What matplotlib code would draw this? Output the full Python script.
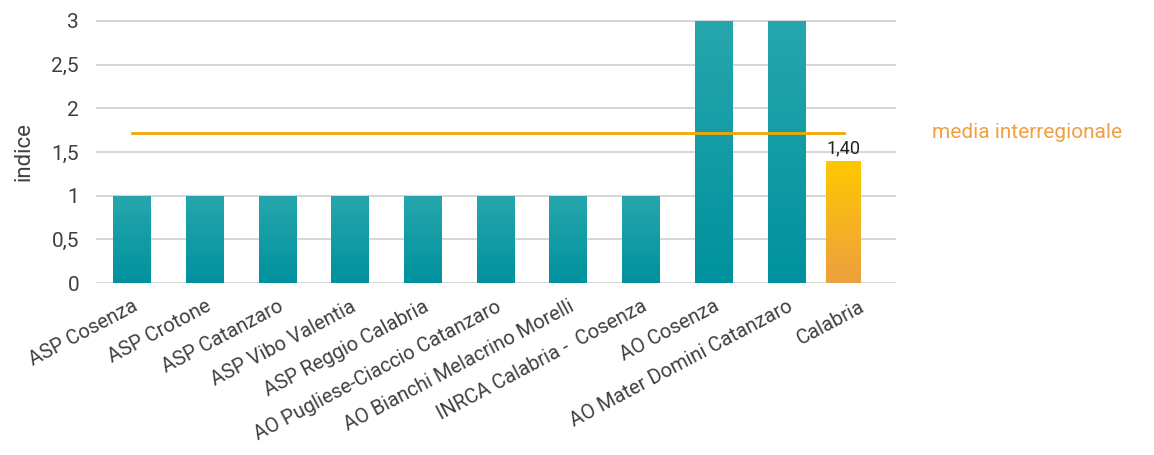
import numpy as np
import matplotlib.pyplot as plt
from matplotlib.colors import LinearSegmentedColormap

categories = ['ASP Cosenza', 'ASP Crotone', 'ASP Catanzaro', 'ASP Vibo Valentia',
              'ASP Reggio Calabria', 'AO Pugliese-Ciaccio Catanzaro',
              'AO Bianchi Melacrino Morelli', 'INRCA Calabria -  Cosenza',
              'AO Cosenza', 'AO Mater Domini Catanzaro', 'Calabria']
values = [1, 1, 1, 1, 1, 1, 1, 1, 3, 3, 1.40]
media = 1.72
yticks = [0, 0.5, 1, 1.5, 2, 2.5, 3]
yticklabels = ['0', '0,5', '1', '1,5', '2', '2,5', '3']

plt.rcParams['font.family'] = ['Roboto', 'DejaVu Sans']

teal = LinearSegmentedColormap.from_list('teal', ['#00919E', '#27A7AD'])
gold = LinearSegmentedColormap.from_list('gold', ['#ECA040', '#FFC800'])

fig = plt.figure(figsize=(11.54, 4.55), dpi=100)
ax = fig.add_axes([0.083, 0.378, 0.693, 0.578])

x = np.arange(len(categories))
# the regional bar sits in a second series, so it is shifted left and narrower
is_reg = np.array([c == 'Calabria' for c in categories])
pos = np.where(is_reg, x - 0.215, x)
widths = np.where(is_reg, 0.48, 0.52)
bars = ax.bar(pos, values, width=widths, color='none', zorder=3)
for i, b in enumerate(bars):
    cmap = gold if is_reg[i] else teal
    x0, y0 = b.get_x(), b.get_y()
    w, h = b.get_width(), b.get_height()
    grad = np.linspace(0, 1, 256).reshape(-1, 1)
    im = ax.imshow(grad, extent=[x0, x0 + w, y0, y0 + h], origin='lower',
                   aspect='auto', cmap=cmap, zorder=3)
    im.set_clip_path(b)

ax.plot([pos[0], pos[-1]], [media, media], color='#F5A800', lw=2, zorder=4)
ax.text(1.046, media, 'media interregionale', color='#F0A040', fontsize=15,
        va='center', ha='left', clip_on=False,
        transform=ax.get_yaxis_transform())
ax.text(pos[-1], values[-1] + 0.04, '1,40', color='#222222', fontsize=13,
        ha='center', va='bottom')

ax.set_xlim(-0.5, 10.5)
ax.set_ylim(0, 3.01)
ax.set_yticks(yticks)
ax.set_yticklabels(yticklabels, fontsize=15, color='#404040')
ax.yaxis.grid(True, color='#D0D0D0', lw=1.2, zorder=0)
ax.set_axisbelow(True)
ax.set_xticks(x)
ax.set_xticklabels(categories, rotation=28, ha='right', rotation_mode='anchor',
                   fontsize=14.5, color='#404040')
ax.tick_params(axis='y', length=0, pad=12)
ax.tick_params(axis='x', length=0, pad=10)
ax.set_ylabel('indice', fontsize=16, color='#404040', labelpad=12)
for s in ax.spines.values():
    s.set_visible(False)

fig.savefig('out.png', dpi=100)
